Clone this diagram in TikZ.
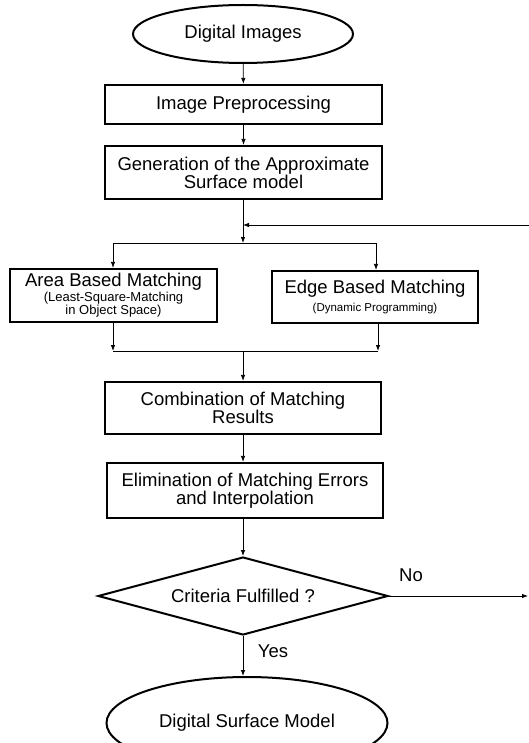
\documentclass[tikz,border=0pt]{standalone}
\usepackage{fontspec}
\setmainfont{Liberation Sans}
\usetikzlibrary{arrows.meta,shapes.geometric}
\begin{document}
\begin{tikzpicture}[x=1pt,y=1pt,
  box/.style={draw, line width=2.2pt, rectangle, inner sep=0pt, align=center,
    font=\fontsize{18.5}{18}\selectfont},
  term/.style={draw, line width=2pt, ellipse, inner sep=0pt, align=center,
    font=\fontsize{18.5}{18}\selectfont},
  decis/.style={draw, line width=2pt, diamond, inner sep=0pt, aspect=3.7,
    font=\fontsize{18.5}{18}\selectfont},
  conn/.style={line width=0.8pt, -{Latex[length=6pt,width=4.5pt]}},
  line/.style={line width=0.8pt},
  lbl/.style={font=\fontsize{18.5}{18}\selectfont, inner sep=0pt}
]
\clip (0,0) rectangle (529,-743);
\fill[white] (0,0) rectangle (529,-743);

\node[term, minimum width=220, minimum height=58] (di) at (243,-34) {Digital Images};
\node[box, minimum width=277, minimum height=39] (ip) at (243.5,-104.5) {Image Preprocessing};
\node[box, minimum width=277, minimum height=53] (gen) at (243.5,-172.5) {Generation of the Approximate\\Surface model};
\node[box, minimum width=207, minimum height=53] (area) at (113.5,-295.5)
  {Area Based Matching\\[-3pt]{\fontsize{13}{11}\selectfont\begin{tabular}[t]{@{}c@{}}(Least-Square-Matching\\in Object Space)\end{tabular}}};
\node[box, minimum width=206, minimum height=52] (edge) at (375,-297)
  {Edge Based Matching\\[0pt]{\fontsize{11.5}{11}\selectfont (Dynamic Programming)}};
\node[box, minimum width=276, minimum height=52] (comb) at (243,-408) {Combination of Matching\\Results};
\node[box, minimum width=276, minimum height=55] (elim) at (245,-490.5) {Elimination of Matching Errors\\and Interpolation};
\node[decis, minimum width=290, minimum height=78] (crit) at (243,-596) {Criteria Fulfilled ?};
\node[term, minimum width=281, minimum height=92] (dsm) at (247,-723) {Digital Surface Model};

\node[lbl] (no) at (411,-575) {No};
\node[lbl] (yes) at (273,-651) {Yes};

\coordinate (fb) at (529,-225);
\coordinate (fbj) at (243,-225);
\coordinate (j1) at (243,-243);
\coordinate (j1l) at (113,-243);
\coordinate (j1r) at (376,-243);
\coordinate (j2l) at (113,-351);
\coordinate (j2r) at (378,-351);
\coordinate (j2) at (243,-351);
\coordinate (noend) at (528,-596);

\draw[conn] (di) -- (ip);
\draw[conn] (ip) -- (gen);
\draw[conn] (gen.south -| j1) -- (j1);
\draw[conn] (fb) -- (fbj);
\draw[line] (j1l) -- (j1r);
\draw[conn] (j1l) -- (area.north -| j1l);
\draw[conn] (j1r) -- (edge.north -| j1r);
\draw[conn] (area.south -| j2l) -- (j2l);
\draw[conn] (edge.south -| j2r) -- (j2r);
\draw[line] (j2l) -- (j2r);
\draw[conn] (j2) -- (comb.north -| j2);
\draw[conn] (comb.south -| j2) -- (elim.north -| j2);
\draw[conn] (elim.south -| j2) -- (crit.north);
\draw[conn] (crit.east) -- (noend);
\draw[conn] (crit.south) -- (crit.south |- dsm.north);
\end{tikzpicture}
\end{document}
